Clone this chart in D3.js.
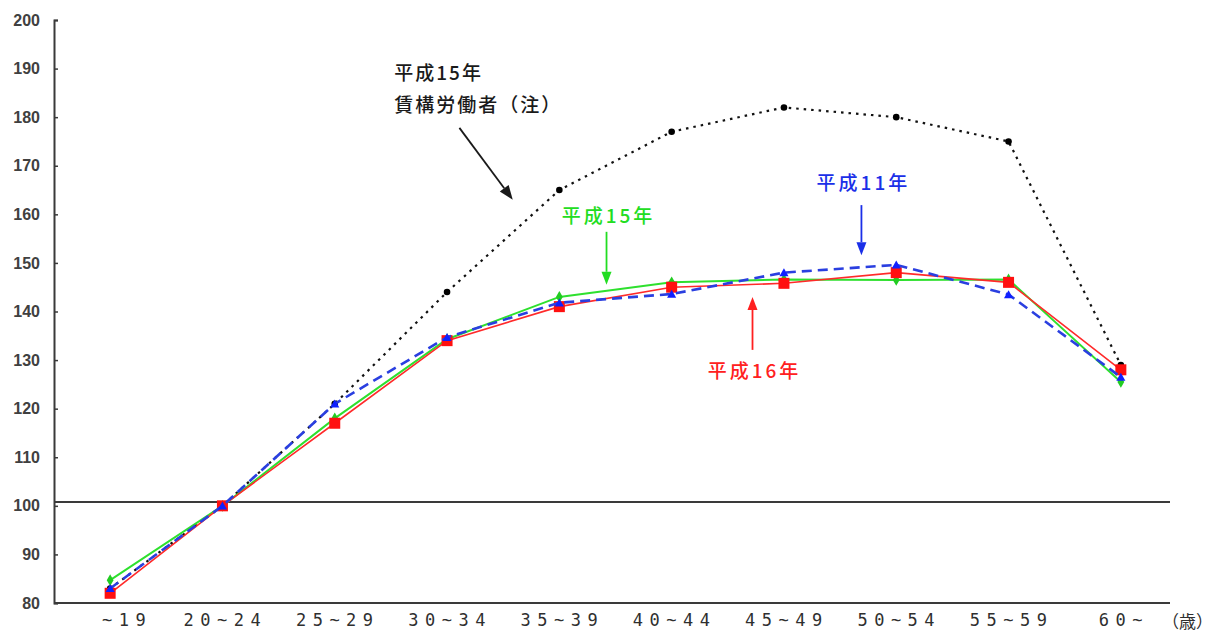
<!DOCTYPE html>
<html lang="ja">
<head>
<meta charset="utf-8">
<script src="https://cdn.jsdelivr.net/npm/d3@7"></script>
<style>
  html, body { margin: 0; padding: 0; background: #fff; }
  svg { display: block; }
</style>
</head>
<body>
<svg id="chart" width="1216" height="635"></svg>
<script>
// Age groups along the horizontal axis
const categories = ["~19", "20~24", "25~29", "30~34", "35~39", "40~44", "45~49", "50~54", "55~59", "60~"];

// Wage index by age group (20~24 = 100)
const heisei11 = [83, 100, 121, 134.7, 141.8, 143.6, 148, 149.6, 143.5, 126.5];
const heisei15 = [84.7, 100, 118, 134.3, 143, 146, 146.6, 146.5, 146.6, 125.5];
const heisei16 = [82, 100, 117, 134, 141, 145, 145.8, 148, 146, 128];
const heisei15Chinko = [83, 100, 121, 144, 165, 177, 182, 180, 175, 129];

// Vertical axis ticks
const yTicks = [80, 90, 100, 110, 120, 130, 140, 150, 160, 170, 180, 190, 200];
const baseLevel = 100.8;
const unitLabel = "（歳）";

const svg = d3.select("#chart");
const plotLeft = 54, plotRight = 1177, plotTop = 20, plotBottom = 603;

const x = d3.scaleBand().domain(categories).range([plotLeft, plotRight]);
const cx = c => x(c) + x.bandwidth() / 2;
// fractional category position, used for the callouts
const xi = i => cx(categories[0]) + i * x.step();
const y = d3.scaleLinear().domain([80, 200]).range([plotBottom, plotTop]);

const axisColor = "#3a3a3a";

// y axis
const yAxis = svg.append("g")
  .attr("transform", `translate(${plotLeft},0)`)
  .call(d3.axisLeft(y).tickValues(yTicks).tickSize(-4).tickPadding(14));
yAxis.select(".domain").attr("stroke", axisColor).attr("stroke-width", 2);
yAxis.selectAll(".tick line").attr("stroke", axisColor).attr("stroke-width", 1.5);
yAxis.selectAll(".tick text")
  .attr("font-family", "Liberation Sans, Arial, sans-serif")
  .attr("font-size", 16).attr("font-weight", "bold").attr("fill", "#404040");

// x axis
svg.append("line")
  .attr("x1", plotLeft).attr("x2", 1170).attr("y1", y(80)).attr("y2", y(80))
  .attr("stroke", axisColor).attr("stroke-width", 2.2);
const xAxis = svg.append("g")
  .attr("transform", `translate(0,${plotBottom})`)
  .call(d3.axisBottom(x).tickSize(0).tickPadding(11));
xAxis.select(".domain").remove();
xAxis.selectAll(".tick text")
  .attr("font-family", "DejaVu Sans Mono, monospace")
  .attr("font-size", 17).attr("fill", "#2f2f2f")
  .attr("letter-spacing", 6.5)
  .attr("dx", (d, i) => i === 0 ? 17 : 3);
svg.append("text")
  .attr("x", 1213).attr("y", 628).attr("text-anchor", "end")
  .attr("font-family", "Noto Sans CJK JP").attr("font-size", 17).attr("fill", "#2f2f2f")
  .text(unitLabel);

// reference line
svg.append("line")
  .attr("x1", plotLeft).attr("x2", 1170).attr("y1", y(baseLevel)).attr("y2", y(baseLevel))
  .attr("stroke", axisColor).attr("stroke-width", 2);

const line = d3.line().x((d, i) => cx(categories[i])).y(d => y(d));

// 平成15年 賃構労働者 (dotted)
svg.append("path").datum(heisei15Chinko).attr("d", line)
  .attr("fill", "none").attr("stroke", "#111").attr("stroke-width", 2.2)
  .attr("stroke-dasharray", "2.5,5");
svg.append("g").selectAll("circle").data(heisei15Chinko).join("circle")
  .attr("cx", (d, i) => cx(categories[i])).attr("cy", d => y(d)).attr("r", 3.3).attr("fill", "#000");

// 平成15年 (green)
svg.append("path").datum(heisei15).attr("d", line)
  .attr("fill", "none").attr("stroke", "#2ee02e").attr("stroke-width", 2);
svg.append("g").selectAll("path").data(heisei15).join("path")
  .attr("d", d3.symbol(d3.symbolDiamond, 40))
  .attr("transform", (d, i) => `translate(${cx(categories[i])},${y(d)})`)
  .attr("fill", "#22cc22");

// 平成16年 (red)
svg.append("path").datum(heisei16).attr("d", line)
  .attr("fill", "none").attr("stroke", "#ff2a2a").attr("stroke-width", 1.6);
svg.append("g").selectAll("rect").data(heisei16).join("rect")
  .attr("x", (d, i) => cx(categories[i]) - 5.5).attr("y", d => y(d) - 5.5)
  .attr("width", 11).attr("height", 11).attr("fill", "#ff1010");

// 平成11年 (blue dashed)
svg.append("path").datum(heisei11).attr("d", line)
  .attr("fill", "none").attr("stroke", "#2a3fe0").attr("stroke-width", 2.6)
  .attr("stroke-dasharray", "10,6");
svg.append("g").selectAll("path").data(heisei11).join("path")
  .attr("d", d3.symbol(d3.symbolTriangle, 36))
  .attr("transform", (d, i) => `translate(${cx(categories[i])},${y(d) + 1})`)
  .attr("fill", "#1020ff");

// callouts
function arrow(x1, y1, x2, y2, color, head) {
  const ang = Math.atan2(y2 - y1, x2 - x1);
  const len = head * 1.3, w = head / 2;
  const bx = x2 - len * Math.cos(ang), by = y2 - len * Math.sin(ang);
  svg.append("line").attr("x1", x1).attr("y1", y1).attr("x2", bx).attr("y2", by)
    .attr("stroke", color).attr("stroke-width", 1.8);
  const px = -Math.sin(ang) * w, py = Math.cos(ang) * w;
  svg.append("path")
    .attr("d", `M${x2},${y2}L${bx + px},${by + py}L${bx - px},${by - py}Z`)
    .attr("fill", color);
}
function label(xc, yc, txt, color, anchor, spacing) {
  svg.append("text").attr("x", xc).attr("y", yc)
    .attr("text-anchor", anchor).attr("dominant-baseline", "middle")
    .attr("font-family", "Noto Sans CJK JP").attr("font-size", 19)
    .attr("font-weight", 500).attr("letter-spacing", spacing)
    .attr("fill", color).text(txt);
}

label(xi(2.53), y(188.7), "平成15年", "#1a1a1a", "start", 2);
label(xi(2.53), y(182.1), "賃構労働者（注）", "#1a1a1a", "start", 2);
arrow(xi(3.11), y(177.8), xi(3.585), y(163), "#1a1a1a", 11);

label(xi(4.42) + 2, y(159.3), "平成15年", "#22dd22", "middle", 3);
arrow(xi(4.42), y(156.4), xi(4.42), y(145.5), "#22dd22", 10);

label(xi(6.69) + 2, y(166), "平成11年", "#1a2fe8", "middle", 3);
arrow(xi(6.69), y(161.9), xi(6.69), y(151.6), "#1a2fe8", 10);

label(xi(5.72) + 2, y(127.3), "平成16年", "#ff2020", "middle", 3);
arrow(xi(5.72), y(132.1), xi(5.72), y(143), "#ff2020", 10);
</script>
</body>
</html>
